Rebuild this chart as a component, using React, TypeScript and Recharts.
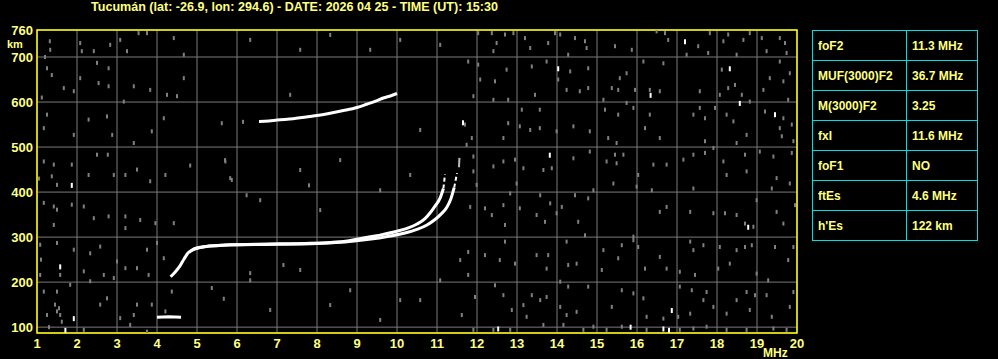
import { ComposedChart, Line, Scatter, XAxis, YAxis, CartesianGrid, ReferenceArea } from "recharts"

const title = "Tucumán (lat: -26.9, lon: 294.6) - DATE: 2026 04 25 - TIME (UT): 15:30"

const xTicks = [1, 2, 3, 4, 5, 6, 7, 8, 9, 10, 11, 12, 13, 14, 15, 16, 17, 18, 19, 20]
const yTicks = [100, 200, 300, 400, 500, 600, 700, 760]

const paramNames = ["foF2", "MUF(3000)F2", "M(3000)F2", "fxI", "foF1", "ftEs", "h'Es"]
const paramValues = ["11.3 MHz", "36.7 MHz", "3.25", "11.6 MHz", "NO", "4.6 MHz", "122 km"]

// traces: [MHz, km]
const esTrace = [[4.0, 122], [4.3, 123], [4.6, 122]]
const oTrace = [
  [4.34, 212], [4.45, 222], [4.575, 236], [4.68, 252], [4.78, 265], [4.91, 272], [5.05, 276],
  [5.24, 279], [5.5, 281], [5.83, 283], [6.5, 284], [7.08, 285], [7.7, 286], [8.33, 288],
  [8.8, 292], [9.16, 298], [9.6, 305], [10.0, 313], [10.3, 321], [10.5, 329], [10.7, 341],
  [10.83, 354], [10.95, 369], [11.08, 387], [11.16, 408],
]
const oTraceTop = [[11.16, 408], [11.2, 440]]
const xTrace = [
  [4.8, 266], [4.95, 275], [5.3, 280], [6.0, 283], [7.0, 284], [8.0, 286], [8.7, 289],
  [9.3, 295], [9.8, 302], [10.2, 309], [10.5, 317], [10.75, 327], [10.95, 339], [11.1, 351],
  [11.25, 367], [11.35, 386], [11.43, 410],
]
const xTraceTop = [[11.43, 410], [11.5, 442]]
const xTraceTip = [[11.55, 455], [11.56, 476]]
const f2Trace = [
  [6.55, 557], [6.8, 558], [7.0, 560], [7.4, 563], [7.83, 568], [8.2, 573], [8.66, 581],
  [9.0, 588], [9.24, 595], [9.5, 603], [9.66, 609], [9.85, 614], [10.0, 619],
]

const noiseGray = [
  [1.32, 735], [1.33, 716], [1.25, 675], [1.37, 660], [2.08, 731], [2.12, 713], [2.42, 713], [2.83, 727],
  [3.08, 738], [3.25, 713], [3.54, 753], [3.75, 753], [4.42, 742], [4.67, 705], [2.5, 687], [2.79, 675],
  [2.54, 642], [2.79, 635], [2.08, 653], [1.67, 631], [1.92, 624], [3.17, 601], [3.42, 635], [3.83, 627],
  [4.25, 616], [4.5, 613], [4.67, 653], [1.25, 572], [1.17, 542], [1.92, 527], [2.29, 561], [2.75, 568],
  [2.88, 527], [3.42, 509], [3.87, 535], [4.17, 564], [5.62, 553], [1.17, 468], [1.42, 461], [1.87, 461],
  [2.5, 483], [2.77, 483], [2.29, 438], [2.92, 438], [3.21, 438], [3.5, 450], [3.83, 424], [4.21, 438],
  [4.83, 459], [5.71, 468], [5.87, 427], [1.37, 435], [1.5, 416], [1.17, 376], [1.42, 368], [1.5, 361],
  [1.87, 372], [2.17, 368], [2.42, 342], [2.79, 346], [3.21, 346], [3.58, 338], [3.96, 331], [4.42, 331],
  [3.21, 320], [1.42, 327], [1.08, 283], [1.5, 287], [1.92, 272], [2.33, 264], [2.58, 279], [3.0, 246],
  [3.75, 272], [3.21, 231], [3.5, 231], [4.0, 287], [4.17, 253], [1.08, 216], [1.58, 216], [2.17, 224],
  [2.67, 216], [2.92, 209], [3.79, 216], [2.33, 202], [1.17, 179], [1.5, 179], [1.83, 194], [2.58, 150],
  [2.75, 164], [3.5, 150], [3.87, 150], [4.21, 135], [3.42, 127], [1.5, 135], [1.58, 127], [1.25, 127],
  [3.08, 120], [3.33, 105], [2.17, 94], [3.75, 90], [4.37, 179], [5.37, 187], [5.67, 163],
  [1.45, 150], [1.55, 142], [1.62, 112], [1.3, 100], [1.05, 430], [1.1, 250], [1.2, 700], [1.12, 610],
  [6.33, 738], [7.58, 716], [8.33, 749], [9.33, 716], [10.08, 738], [11.08, 727], [7.33, 616], [10.58, 538],
  [7.58, 449], [8.58, 471], [9.58, 404], [10.33, 438], [6.58, 382], [8.08, 360], [6.33, 204], [7.58, 227],
  [8.83, 182], [10.08, 160], [11.08, 204], [6.83, 138], [8.33, 149], [9.58, 116], [10.58, 160], [11.58, 249],
  [7.8, 415], [6.24, 393], [5.7, 471], [5.83, 431], [7.16, 238], [6.33, 220], [6.15, 556],
  [12.03, 753], [12.37, 753], [12.7, 750], [12.91, 753], [12.49, 731], [12.41, 713], [11.78, 690], [12.03, 683],
  [12.08, 650], [12.45, 646], [12.74, 672], [11.91, 613], [12.41, 605], [12.78, 605], [13.2, 742], [13.33, 720],
  [13.78, 731], [13.95, 753], [14.08, 750], [14.45, 742], [14.7, 735], [14.74, 720], [14.28, 705], [13.37, 679],
  [13.74, 690], [14.33, 668], [14.78, 675], [14.03, 650], [14.24, 627], [14.57, 624], [14.78, 631], [13.45, 616],
  [13.12, 583], [13.57, 583], [13.07, 546], [13.33, 538], [13.57, 542], [13.99, 535], [14.41, 546], [14.82, 535],
  [12.66, 520], [12.78, 553], [11.87, 520], [11.7, 550], [11.74, 505], [15.45, 724], [15.87, 716], [16.49, 757],
  [16.7, 753], [16.78, 738], [15.57, 653], [15.74, 664], [15.37, 631], [15.53, 627], [15.95, 627], [15.16, 605],
  [15.74, 598], [16.16, 690], [16.66, 686], [16.32, 627], [16.57, 624], [15.2, 583], [15.53, 572], [15.91, 587],
  [16.32, 572], [16.2, 542], [16.57, 520], [15.28, 520], [15.49, 509], [17.24, 705], [17.53, 724], [17.82, 753],
  [17.78, 709], [18.16, 735], [18.28, 750], [18.66, 738], [18.82, 753], [18.49, 705], [19.12, 742], [19.57, 742],
  [19.7, 731], [19.24, 713], [19.74, 709], [19.57, 690], [18.12, 672], [17.57, 624], [18.07, 616], [18.28, 631],
  [18.62, 616], [18.45, 638], [18.82, 601], [19.32, 653], [19.66, 646], [19.82, 664], [19.16, 627], [19.78, 605],
  [17.57, 587], [17.95, 587], [17.41, 572], [17.7, 564], [18.24, 572], [18.41, 557], [19.2, 579], [19.66, 564],
  [19.87, 550], [19.57, 542], [19.62, 524], [19.91, 513], [17.7, 513], [17.91, 498], [18.74, 527], [18.49, 509],
  [17.16, 472], [17.41, 483], [17.7, 487], [18.16, 468], [18.7, 483], [19.07, 490], [19.41, 479], [19.87, 487],
  [18.24, 438], [18.74, 446], [19.49, 431], [15.45, 483], [15.66, 483], [15.49, 464], [15.24, 468], [16.03, 438],
  [16.41, 461], [16.74, 461], [11.91, 479], [12.41, 457], [12.66, 468], [12.95, 472], [13.16, 453], [13.87, 453],
  [13.66, 449], [14.41, 475], [14.82, 490], [11.91, 446],
  [11.99, 416], [12.83, 397], [12.99, 419], [13.58, 393], [13.83, 375], [14.12, 367], [14.45, 393], [14.78, 386],
  [14.91, 404], [11.83, 367], [12.2, 364], [12.66, 371], [12.37, 349], [12.7, 327], [13.07, 364], [13.49, 349],
  [13.7, 334], [13.99, 353], [14.53, 334], [14.7, 304], [15.91, 301], [15.41, 419], [15.99, 412], [16.37, 404],
  [16.74, 367], [16.57, 356], [17.41, 408], [17.33, 356], [17.91, 353], [18.2, 353], [18.49, 349], [18.7, 330],
  [18.91, 323], [18.99, 382], [19.49, 356], [19.66, 330], [19.82, 419], [19.95, 371], [19.37, 408], [11.78, 267],
  [12.2, 260], [12.57, 249], [12.7, 290], [12.95, 241], [13.49, 260], [13.78, 260], [13.74, 230], [14.24, 290],
  [14.49, 241], [14.28, 238], [15.12, 227], [15.16, 271], [15.62, 282], [15.53, 253], [15.91, 293], [16.03, 278],
  [16.2, 230], [16.57, 256], [16.74, 230], [17.07, 223], [17.33, 290], [17.41, 271], [17.66, 282], [17.45, 216],
  [18.03, 230], [18.07, 278], [18.49, 271], [18.7, 278], [18.87, 282], [18.32, 241], [18.99, 219], [19.28, 204],
  [19.45, 278], [19.78, 249], [19.91, 278], [11.78, 216], [12.45, 193], [11.95, 167], [12.66, 171], [12.87, 138],
  [13.16, 149], [13.37, 171], [13.58, 160], [13.74, 167], [13.24, 123], [14.08, 201], [14.08, 145], [14.28, 190],
  [14.24, 127], [14.49, 134], [14.78, 190], [15.37, 145], [15.62, 182], [15.91, 175], [16.16, 164], [16.24, 123],
  [16.66, 119], [17.03, 123], [17.07, 190], [17.37, 182], [17.33, 130], [17.66, 160], [17.74, 178], [17.91, 145],
  [18.24, 130], [18.49, 160], [18.74, 178], [18.95, 171], [19.24, 171], [18.82, 138], [19.37, 123], [19.82, 145],
  [19.91, 178], [11.62, 127], [11.91, 94], [12.41, 94], [12.83, 94], [13.66, 105], [14.16, 105], [14.66, 94],
  [14.91, 101], [15.24, 94], [15.62, 101], [16.24, 94], [17.07, 94], [17.41, 97], [17.74, 101], [18.24, 94],
  [18.74, 94], [19.41, 97], [19.74, 94],
]

const noiseWhite = [
  [1.87, 416], [1.58, 235], [1.92, 120], [1.71, 94], [14.03, 675], [16.34, 616], [17.2, 735], [18.32, 675],
  [18.57, 598], [19.45, 573], [13.82, 483], [18.78, 323], [12.53, 97], [15.84, 101], [16.87, 138], [16.66, 97],
  [16.8, 94], [11.65, 555],
]

const toPts = (arr: number[][]) => arr.map(([x, y]) => ({ x, y }))

const YELLOW = "#ffff80"
const FONT = "'Liberation Sans', Arial, sans-serif"

const GrayDot = (p: any) => <rect x={p.cx - 1} y={p.cy - 2} width={2} height={4} fill="#808080" />
const WhiteDot = (p: any) => <rect x={p.cx - 1} y={p.cy - 2} width={2} height={5} fill="#ffffff" />

export default function App() {
  const tickStyle = { fill: YELLOW, fontSize: 13, fontWeight: 700, fontFamily: FONT }
  return (
    <div style={{ position: "absolute", left: 0, top: 0, width: 998, height: 359, background: "#000", overflow: "hidden" }}>
      <ComposedChart width={998} height={359} margin={{ top: 30, right: 201, bottom: 0, left: 0 }}>
        <CartesianGrid stroke="#7a7a7a" strokeWidth={1} />
        <XAxis
          type="number"
          dataKey="x"
          domain={[1, 20]}
          ticks={xTicks}
          interval={0}
          height={26}
          axisLine={false}
          tickLine={false}
          tickSize={4}
          tickMargin={2}
          tick={tickStyle}
          allowDataOverflow
        />
        <YAxis
          type="number"
          dataKey="y"
          domain={[87, 760]}
          ticks={yTicks}
          interval={0}
          width={37}
          axisLine={false}
          tickLine={false}
          tickSize={2}
          tickMargin={2}
          tick={tickStyle}
          allowDataOverflow
        />
        <Scatter data={toPts(noiseGray)} shape={GrayDot} isAnimationActive={false} />
        <Scatter data={toPts(noiseWhite)} shape={WhiteDot} isAnimationActive={false} />
        <Line data={toPts(esTrace)} dataKey="y" type="linear" stroke="#fff" strokeWidth={3} dot={false} activeDot={false} isAnimationActive={false} />
        <Line data={toPts(xTrace)} dataKey="y" type="monotone" stroke="#fff" strokeWidth={3} dot={false} activeDot={false} isAnimationActive={false} />
        <Line data={toPts(oTrace)} dataKey="y" type="monotone" stroke="#fff" strokeWidth={3} dot={false} activeDot={false} isAnimationActive={false} />
        <Line data={toPts(oTraceTop)} dataKey="y" type="linear" stroke="#fff" strokeWidth={2} strokeDasharray="4 3" dot={false} activeDot={false} isAnimationActive={false} />
        <Line data={toPts(xTraceTop)} dataKey="y" type="linear" stroke="#fff" strokeWidth={2} strokeDasharray="4 3" dot={false} activeDot={false} isAnimationActive={false} />
        <Line data={toPts(xTraceTip)} dataKey="y" type="linear" stroke="#bbb" strokeWidth={2} dot={false} activeDot={false} isAnimationActive={false} />
        <Line data={toPts(f2Trace)} dataKey="y" type="monotone" stroke="#fff" strokeWidth={3} dot={false} activeDot={false} isAnimationActive={false} />
        <ReferenceArea x1={1} x2={20} y1={87} y2={760} stroke="#ffff00" strokeWidth={1.5} fill="none" fillOpacity={0} ifOverflow="visible" />
      </ComposedChart>

      <svg width={998} height={359} style={{ position: "absolute", left: 0, top: 0, pointerEvents: "none" }}>
        <text x={91} y={11} fill={YELLOW} fontSize={12} fontWeight={700} fontFamily={FONT} textLength={407} lengthAdjust="spacingAndGlyphs">
          {title}
        </text>
        <text x={7} y={48} fill={YELLOW} fontSize={11} fontWeight={700} fontFamily={FONT}>km</text>
        <text x={763} y={357} fill={YELLOW} fontSize={12} fontWeight={700} fontFamily={FONT}>MHz</text>
      </svg>

      <table
        style={{
          position: "absolute",
          left: 812,
          top: 30,
          width: 166,
          borderCollapse: "collapse",
          fontFamily: FONT,
          fontSize: 12,
          fontWeight: 700,
          color: YELLOW,
        }}
      >
        <tbody>
          {paramNames.map((n, i) => (
            <tr key={n} style={{ height: 30 }}>
              <td style={{ border: "1px solid #00e0e0", width: 88, padding: "0 0 0 5px" }}>{n}</td>
              <td style={{ border: "1px solid #00e0e0", padding: "0 0 0 5px" }}>{paramValues[i]}</td>
            </tr>
          ))}
        </tbody>
      </table>
    </div>
  )
}
